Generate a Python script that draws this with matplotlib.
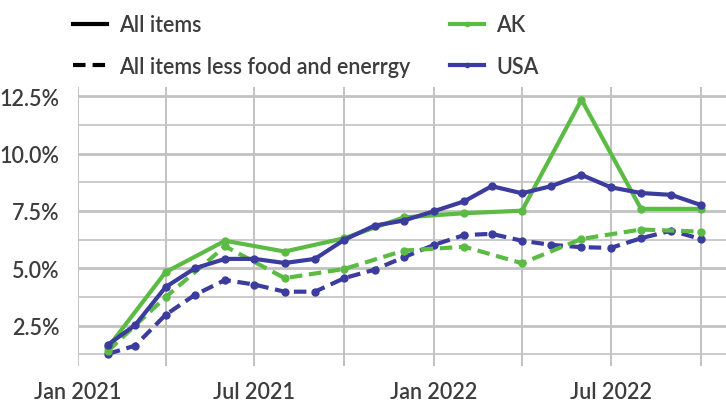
import matplotlib
matplotlib.use("Agg")
import matplotlib.pyplot as plt
import matplotlib.dates as mdates
from matplotlib.lines import Line2D
from matplotlib.ticker import MultipleLocator, FuncFormatter
import pandas as pd

# --- data (year-over-year CPI change, %) ---
usa_dates = pd.date_range("2021-02-01", "2022-10-01", freq="MS")
usa_all = [1.67, 2.53, 4.18, 5.0, 5.41, 5.41, 5.23, 5.41, 6.24, 6.86, 7.08,
           7.49, 7.92, 8.58, 8.27, 8.58, 9.07, 8.53, 8.28, 8.2, 7.76]
usa_core = [1.27, 1.63, 2.97, 3.84, 4.49, 4.29, 3.98, 3.98, 4.57, 4.94, 5.48,
            6.02, 6.45, 6.5, 6.2, 6.02, 5.92, 5.89, 6.31, 6.64, 6.28]

ak_dates = pd.date_range("2021-02-01", "2022-10-01", freq="2MS")
ak_all = [1.55, 4.83, 6.2, 5.73, 6.31, 7.22, 7.4, 7.51, 12.35, 7.59, 7.59]
ak_core = [1.4, 3.74, 5.96, 4.57, 4.97, 5.77, 5.94, 5.22, 6.28, 6.69, 6.6]

GREEN = "#5cbb45"
BLUE = "#3c3c9e"
TEXT = "#3d3d3d"
GRID = "#c2c2c2"

plt.rcParams["font.family"] = ["Lato", "DejaVu Sans"]
plt.rcParams["font.weight"] = "semibold"
FS = 15.5

fig = plt.figure(figsize=(7.26, 4.02), dpi=100)
ax = fig.add_axes([0.107, 0.087, 0.893, 0.694])

lw = 3.0
ms = 5
dash = (3, 1.6)
ax.plot(usa_dates, usa_core, color=BLUE, lw=lw, ls="--", dashes=dash,
        marker="o", ms=ms, zorder=3)
ax.plot(ak_dates, ak_core, color=GREEN, lw=lw, ls="--", dashes=dash,
        marker="o", ms=ms, zorder=3)
ax.plot(ak_dates, ak_all, color=GREEN, lw=lw, marker="o", ms=ms, zorder=4)
ax.plot(usa_dates, usa_all, color=BLUE, lw=lw, marker="o", ms=ms, zorder=5)

ax.set_xlim(pd.Timestamp("2021-01-01"), pd.Timestamp("2022-10-27"))
ax.set_ylim(0.74, 12.9)

ax.xaxis.set_major_locator(mdates.MonthLocator(bymonth=[1, 7]))
ax.xaxis.set_minor_locator(mdates.MonthLocator(bymonth=[4, 10]))
ax.xaxis.set_major_formatter(mdates.DateFormatter("%b %Y"))
ax.yaxis.set_major_locator(MultipleLocator(2.5))
ax.yaxis.set_minor_locator(MultipleLocator(1.25))
ax.yaxis.set_major_formatter(FuncFormatter(lambda v, _: f"{v:.1f}%"))

ax.grid(True, which="major", axis="y", color=GRID, lw=2.0)
ax.grid(True, which="minor", axis="y", color=GRID, lw=1.2)
ax.grid(True, which="both", axis="x", color=GRID, lw=1.4)
ax.set_axisbelow(True)

for s in ax.spines.values():
    s.set_visible(False)
ax.tick_params(which="both", length=0, labelsize=FS, colors=TEXT)
ax.tick_params(axis="x", pad=10.5)
ax.tick_params(axis="y", pad=13)

# legend: line style column and region colour column
style_handles = [
    Line2D([], [], color="black", lw=lw),
    Line2D([], [], color="black", lw=lw, ls="--", dashes=(3, 1.7)),
]
region_handles = [
    Line2D([], [], color=GREEN, lw=lw, marker="o", ms=3),
    Line2D([], [], color=BLUE, lw=lw, marker="o", ms=3),
]
leg_kw = dict(loc="upper left", frameon=False, fontsize=FS, labelcolor=TEXT,
              handlelength=1.55, handletextpad=0.57, labelspacing=0.95,
              numpoints=1)
fig.legend(style_handles, ["All items", "All items less food and enerrgy"],
           bbox_to_anchor=(0.0743, 1.01), **leg_kw)
fig.legend(region_handles, ["AK", "USA"],
           bbox_to_anchor=(0.5937, 1.01), **leg_kw)

fig.savefig("out.png", dpi=100)
